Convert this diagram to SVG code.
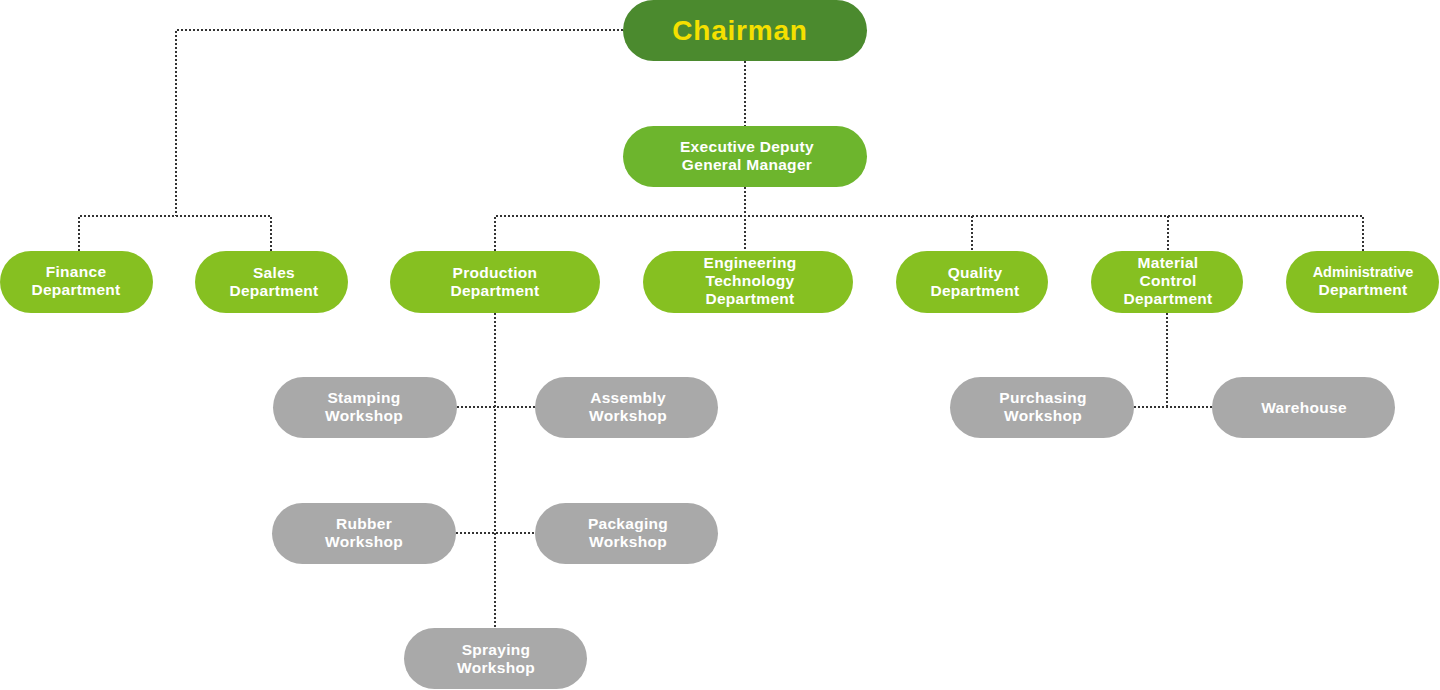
<svg xmlns="http://www.w3.org/2000/svg" width="1440" height="690" viewBox="0 0 1440 690">
<style>
.n{fill:#86c021}.g{fill:#a9a9a9}.t{font-family:"Liberation Sans",Arial,sans-serif;font-weight:bold;font-size:15.5px;fill:#fff;text-anchor:middle;letter-spacing:0.3px}
.c{fill:none;stroke:#333;stroke-width:2;stroke-dasharray:2 2}
</style>
<rect width="1440" height="690" fill="#fff"/>
<g id="connectors">
<path class="c" d="M623 30H176V216M79 251V216H271V251"/>
<path class="c" d="M745 61V126M745 187V251M495 251V216H1363V251M972 216V251M1168 216V251"/>
<path class="c" d="M495 313V628M457 407H535M456 533H535"/>
<path class="c" d="M1167 313V407M1134 407H1212"/>
</g>
<g id="chairman"><rect x="623" y="0" width="244" height="61" rx="30.5" fill="#4b8a2e"/><text x="740" y="40" style="font-family:'Liberation Sans',Arial,sans-serif;font-weight:bold;font-size:28px;fill:#f5e000;text-anchor:middle;letter-spacing:0.8px">Chairman</text></g>
<g id="exec"><rect x="623" y="126" width="244" height="61" rx="30.5" fill="#6db52d"/><text class="t" x="747" y="152">Executive Deputy</text><text class="t" x="747" y="170">General Manager</text></g>
<g id="finance"><rect class="n" x="0" y="251" width="153" height="62" rx="31"/><text class="t" x="76" y="277">Finance</text><text class="t" x="76" y="295">Department</text></g>
<g id="sales"><rect class="n" x="195" y="251" width="153" height="62" rx="31"/><text class="t" x="274" y="278">Sales</text><text class="t" x="274" y="296">Department</text></g>
<g id="production"><rect class="n" x="390" y="251" width="210" height="62" rx="31"/><text class="t" x="495" y="278">Production</text><text class="t" x="495" y="296">Department</text></g>
<g id="engineering"><rect class="n" x="643" y="251" width="210" height="62" rx="31"/><text class="t" x="750" y="268">Engineering</text><text class="t" x="750" y="286">Technology</text><text class="t" x="750" y="304">Department</text></g>
<g id="quality"><rect class="n" x="896" y="251" width="152" height="62" rx="31"/><text class="t" x="975" y="278">Quality</text><text class="t" x="975" y="296">Department</text></g>
<g id="material"><rect class="n" x="1091" y="251" width="152" height="62" rx="31"/><text class="t" x="1168" y="268">Material</text><text class="t" x="1168" y="286">Control</text><text class="t" x="1168" y="304">Department</text></g>
<g id="admin"><rect class="n" x="1286" y="251" width="153" height="62" rx="31"/><text class="t" x="1363" y="277" style="font-size:14.5px;letter-spacing:0">Administrative</text><text class="t" x="1363" y="295">Department</text></g>
<g id="stamping"><rect class="g" x="273" y="377" width="184" height="61" rx="30.5"/><text class="t" x="364" y="403">Stamping</text><text class="t" x="364" y="421">Workshop</text></g>
<g id="assembly"><rect class="g" x="535" y="377" width="183" height="61" rx="30.5"/><text class="t" x="628" y="403">Assembly</text><text class="t" x="628" y="421">Workshop</text></g>
<g id="rubber"><rect class="g" x="272" y="503" width="184" height="61" rx="30.5"/><text class="t" x="364" y="529">Rubber</text><text class="t" x="364" y="547">Workshop</text></g>
<g id="packaging"><rect class="g" x="535" y="503" width="183" height="61" rx="30.5"/><text class="t" x="628" y="529">Packaging</text><text class="t" x="628" y="547">Workshop</text></g>
<g id="spraying"><rect class="g" x="404" y="628" width="183" height="61" rx="30.5"/><text class="t" x="496" y="655">Spraying</text><text class="t" x="496" y="673">Workshop</text></g>
<g id="purchasing"><rect class="g" x="950" y="377" width="184" height="61" rx="30.5"/><text class="t" x="1043" y="403">Purchasing</text><text class="t" x="1043" y="421">Workshop</text></g>
<g id="warehouse"><rect class="g" x="1212" y="377" width="183" height="61" rx="30.5"/><text class="t" x="1304" y="413">Warehouse</text></g>
</svg>
